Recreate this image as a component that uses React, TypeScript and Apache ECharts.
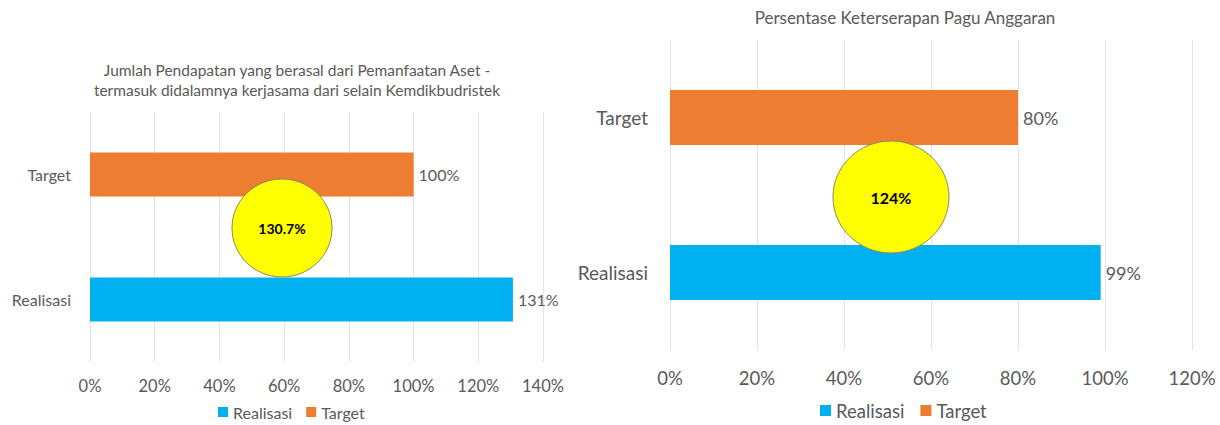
import React, { useEffect, useRef } from "react";
import * as echarts from "echarts";

const categories = ["Realisasi", "Target"];
const leftRealisasi = [130.7, null];
const leftTarget = [null, 100];
const rightRealisasi = [99, null];
const rightTarget = [null, 80];
const leftTicks = { min: 0, max: 140, interval: 20 };
const rightTicks = { min: 0, max: 120, interval: 20 };
const leftTitle = "Jumlah Pendapatan yang berasal dari Pemanfaatan Aset -\ntermasuk didalamnya kerjasama dari selain Kemdikbudristek";
const rightTitle = "Persentase Keterserapan Pagu Anggaran";
const leftBubble = "130.7%";
const rightBubble = "124%";

const FONT = "Lato";
const GREY = "#595959";
const BLUE = "#00B0F0";
const ORANGE = "#ED7D31";

export default function App() {
  const ref = useRef<HTMLDivElement>(null);
  useEffect(() => {
    if (!ref.current) return;
    const chart = echarts.init(ref.current, null, { renderer: "svg" });
    const label = (size: number) => ({
      show: true,
      position: "right",
      distance: 5,
      color: GREY,
      fontFamily: FONT,
      fontSize: size,
      formatter: (p: any) => (p.value == null ? "" : `${Math.round(p.value)}%`),
    });
    const xAx = (idx: number, t: any, size: number, margin: number) => ({
      type: "value",
      gridIndex: idx,
      min: t.min,
      max: t.max,
      interval: t.interval,
      axisLine: { show: false },
      axisTick: { show: false },
      splitLine: { lineStyle: { color: "#e3e3e3", width: 1 } },
      axisLabel: { formatter: "{value}%", color: GREY, fontFamily: FONT, fontSize: size, margin },
    });
    const yAx = (idx: number, size: number, margin: number) => ({
      type: "category",
      gridIndex: idx,
      data: categories,
      axisLine: { show: false },
      axisTick: { show: false },
      axisLabel: { color: GREY, fontFamily: FONT, fontSize: size, margin },
    });
    chart.setOption({
      animation: false,
      backgroundColor: "#ffffff",
      title: [
        {
          text: leftTitle,
          left: 292,
          top: 55,
          textAlign: "center",
          textStyle: { color: GREY, fontFamily: FONT, fontSize: 15.5, fontWeight: "normal", lineHeight: 20 },
        },
        {
          text: rightTitle,
          left: 900,
          top: 4,
          textAlign: "center",
          textStyle: { color: GREY, fontFamily: FONT, fontSize: 17, fontWeight: "normal" },
        },
      ],
      legend: [
        {
          data: ["Realisasi", "Target"],
          left: 213,
          top: 399,
          icon: "rect",
          itemWidth: 10,
          itemHeight: 10,
          itemGap: 14,
          textStyle: { color: GREY, fontFamily: FONT, fontSize: 16 },
        },
        {
          data: ["Realisasi", "Target"],
          left: 815,
          top: 396,
          icon: "rect",
          itemWidth: 11,
          itemHeight: 11,
          itemGap: 16,
          textStyle: { color: GREY, fontFamily: FONT, fontSize: 18.5 },
        },
      ],
      grid: [
        { left: 90, top: 112, width: 453, height: 250 },
        { left: 670, top: 40, width: 522, height: 310 },
      ],
      xAxis: [xAx(0, leftTicks, 16.5, 15), xAx(1, rightTicks, 18.5, 18)],
      yAxis: [yAx(0, 16, 19), yAx(1, 19, 22)],
      series: [
        { name: "Realisasi", type: "bar", stack: "L", xAxisIndex: 0, yAxisIndex: 0, data: leftRealisasi, barWidth: 44, itemStyle: { color: BLUE }, label: label(16) },
        { name: "Target", type: "bar", stack: "L", xAxisIndex: 0, yAxisIndex: 0, data: leftTarget, barWidth: 44, itemStyle: { color: ORANGE }, label: label(16) },
        { name: "Realisasi", type: "bar", stack: "R", xAxisIndex: 1, yAxisIndex: 1, data: rightRealisasi, barWidth: 55, itemStyle: { color: BLUE }, label: label(18) },
        { name: "Target", type: "bar", stack: "R", xAxisIndex: 1, yAxisIndex: 1, data: rightTarget, barWidth: 55, itemStyle: { color: ORANGE }, label: label(18) },
      ],
      graphic: [
        {
          type: "ellipse",
          shape: { cx: 282, cy: 228, rx: 50, ry: 49 },
          style: { fill: "#FFFF00", stroke: "#8a8a5a", lineWidth: 1 },
          z: 100,
        },
        {
          type: "text",
          x: 282,
          y: 228,
          style: { text: leftBubble, fill: "#000", font: `bold 14px ${FONT}`, align: "center", verticalAlign: "middle" },
          z: 101,
        },
        {
          type: "ellipse",
          shape: { cx: 891, cy: 197, rx: 58, ry: 56 },
          style: { fill: "#FFFF00", stroke: "#8a8a5a", lineWidth: 1 },
          z: 100,
        },
        {
          type: "text",
          x: 891,
          y: 197,
          style: { text: rightBubble, fill: "#000", font: `bold 16px ${FONT}`, align: "center", verticalAlign: "middle" },
          z: 101,
        },
      ],
    });
    return () => chart.dispose();
  }, []);
  return <div ref={ref} style={{ position: "absolute", left: 0, top: 0, width: 1220, height: 425 }} />;
}
